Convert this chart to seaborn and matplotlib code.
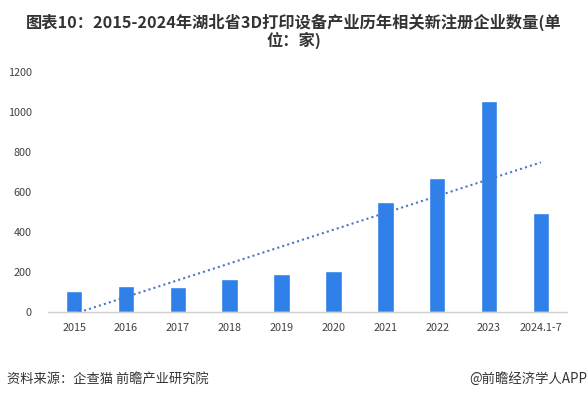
import matplotlib
matplotlib.use("Agg")
import matplotlib.pyplot as plt
import seaborn as sns
import numpy as np
import pandas as pd

categories = ["2015", "2016", "2017", "2018", "2019", "2020", "2021", "2022", "2023", "2024.1-7"]
values = [105, 128, 122, 163, 190, 204, 550, 670, 1055, 494]
yticks = [0, 200, 400, 600, 800, 1000, 1200]

title = "图表10：2015-2024年湖北省3D打印设备产业历年相关新注册企业数量(单\n位：家)"
source = "资料来源：企查猫 前瞻产业研究院"
credit = "@前瞻经济学人APP"

sns.set_theme(style="white")
plt.rcParams['font.family'] = ['Noto Sans CJK SC', 'DejaVu Sans']

df = pd.DataFrame({"cat": categories, "val": values})

fig = plt.figure(figsize=(5.88, 3.98), dpi=100)
ax = fig.add_axes([0.082, 0.217, 0.882, 0.602])

sns.barplot(data=df, x="cat", y="val", color="#2F80E8", saturation=1, width=0.32, ax=ax)

# linear trendline
x = np.arange(len(values))
k, b = np.polyfit(x, values, 1)
ax.plot(x, k * x + b, linestyle=(0, (1, 1.5)), color="#4A78C2", linewidth=1.5)

ax.set_ylim(0, 1200)
ax.set_xlim(-0.5, len(categories) - 0.5)
ax.set_yticks(yticks)
ax.set_yticklabels([str(t) for t in yticks])
ax.set_xlabel("")
ax.set_ylabel("")
ax.tick_params(axis="both", labelsize=7.8, colors="#404040", length=0)
ax.tick_params(axis="x", pad=8)
ax.tick_params(axis="y", pad=12)
for s in ["top", "right", "left"]:
    ax.spines[s].set_visible(False)
ax.spines["bottom"].set_color("#D0D0D0")
ax.spines["bottom"].set_linewidth(1)

fig.text(0.5, 0.965, title, ha="center", va="top", fontsize=11.7, fontweight="bold",
         color="#333333", linespacing=1.05)
fig.text(0.012, 0.048, source, ha="left", va="center", fontsize=9.5, color="#333333")
fig.text(0.999, 0.048, credit, ha="right", va="center", fontsize=9.6, color="#333333")

fig.savefig("out.png", dpi=100)
